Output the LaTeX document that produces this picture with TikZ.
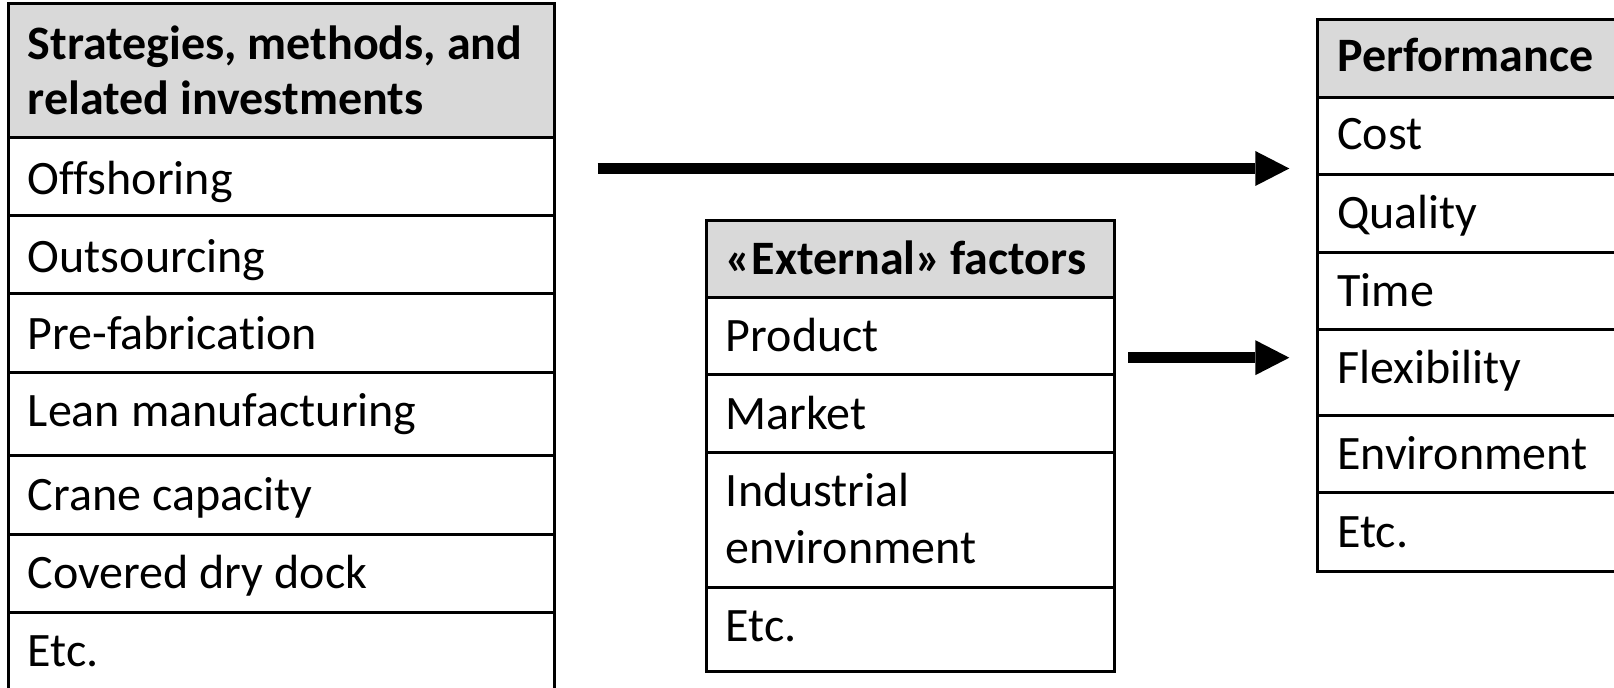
\documentclass[tikz,border=0pt]{standalone}
\usepackage{fontspec}
\setmainfont{Carlito}[Ligatures={NoCommon}]
\usetikzlibrary{arrows.meta,fit}
\definecolor{headgrey}{HTML}{D9D9D9}
\begin{document}
\begin{tikzpicture}[x=0.5pt,y=-0.5pt,
  cellbox/.style={draw=black, line width=1.5pt, rectangle, inner sep=0pt, outer sep=0pt},
  headbox/.style={cellbox, fill=headgrey},
  txt/.style={anchor=base west, inner sep=0pt, font=\fontsize{24pt}{28pt}\selectfont},
  btxt/.style={anchor=base west, inner sep=0pt, font=\fontsize{24pt}{28pt}\selectfont\bfseries},
  flow/.style={line width=5.5pt, -{Triangle[length=17pt,width=17.5pt,line width=0pt]}}
]
\clip (0,0) rectangle (1614,688);

% ---------------- left table ----------------
\node[headbox, fit={(8,4)(554,137.7)}] (L0) {};
\node[cellbox, fit={(8,137.7)(554,216)}] (L1) {};
\node[cellbox, fit={(8,216)(554,294)}] (L2) {};
\node[cellbox, fit={(8,294)(554,373)}] (L3) {};
\node[cellbox, fit={(8,373)(554,456)}] (L4) {};
\node[cellbox, fit={(8,456)(554,534.5)}] (L5) {};
\node[cellbox, fit={(8,534.5)(554,612.5)}] (L6) {};
\node[cellbox, fit={(8,612.5)(554,720)}] (L7) {};

\node[btxt] (L0a) at (27.5,60) {Strategies, methods, and};
\node[btxt] (L0b) at (27.5,115) {related investments};
\node[txt] (L1t) at (27.5,195) {Offshoring};
\node[txt] (L2t) at (27.5,272.5) {Outsourcing};
\node[txt] (L3t) at (27.5,350) {Pre-fabrication};
\node[txt] (L4t) at (27.5,427) {Lean manufacturing};
\node[txt] (L5t) at (27.5,511) {Crane capacity};
\node[txt] (L6t) at (27.5,588.5) {Covered dry dock};
\node[txt] (L7t) at (27.5,666.5) {Etc.};

% ---------------- middle table ----------------
\node[headbox, fit={(706,220.7)(1114,297.3)}] (M0) {};
\node[cellbox, fit={(706,297.3)(1114,375)}] (M1) {};
\node[cellbox, fit={(706,375)(1114,452.7)}] (M2) {};
\node[cellbox, fit={(706,452.7)(1114,587.3)}] (M3) {};
\node[cellbox, fit={(706,587.3)(1114,671.7)}] (M4) {};

\node[btxt] (M0t) at (725.5,275) {«External»\kern-1pt\ factors};
\node[txt] (M1t) at (725.5,351.7) {Product};
\node[txt] (M2t) at (725.5,430) {Market};
\node[txt] (M3a) at (725.5,506.7) {Industrial};
\node[txt] (M3b) at (725.5,563.3) {environment};
\node[txt] (M4t) at (725.5,641.7) {Etc.};

% ---------------- right table ----------------
\node[headbox, fit={(1317.3,20)(1660,97.7)}] (R0) {};
\node[cellbox, fit={(1317.3,97.7)(1660,174.3)}] (R1) {};
\node[cellbox, fit={(1317.3,174.3)(1660,252.7)}] (R2) {};
\node[cellbox, fit={(1317.3,252.7)(1660,330)}] (R3) {};
\node[cellbox, fit={(1317.3,330)(1660,416)}] (R4) {};
\node[cellbox, fit={(1317.3,416)(1660,493)}] (R5) {};
\node[cellbox, fit={(1317.3,493)(1660,571.3)}] (R6) {};

\node[btxt] (R0t) at (1337,71.7) {Performance};
\node[txt] (R1t) at (1337,150) {Cost};
\node[txt] (R2t) at (1337,228.5) {Quality};
\node[txt] (R3t) at (1337,306.7) {Time};
\node[txt] (R4t) at (1337,383.3) {Flexibility};
\node[txt] (R5t) at (1337,470) {Environment};
\node[txt] (R6t) at (1337,547.3) {Etc.};

% ---------------- arrows ----------------
\coordinate (a1s) at (597.7,168.5);
\coordinate (a1e) at (1289.3,168.5);
\coordinate (a2s) at (1128.3,357.7);
\coordinate (a2e) at (1289.3,357.7);
\draw[flow] (a1s) -- (a1e);
\draw[flow] (a2s) -- (a2e);
\end{tikzpicture}
\end{document}
